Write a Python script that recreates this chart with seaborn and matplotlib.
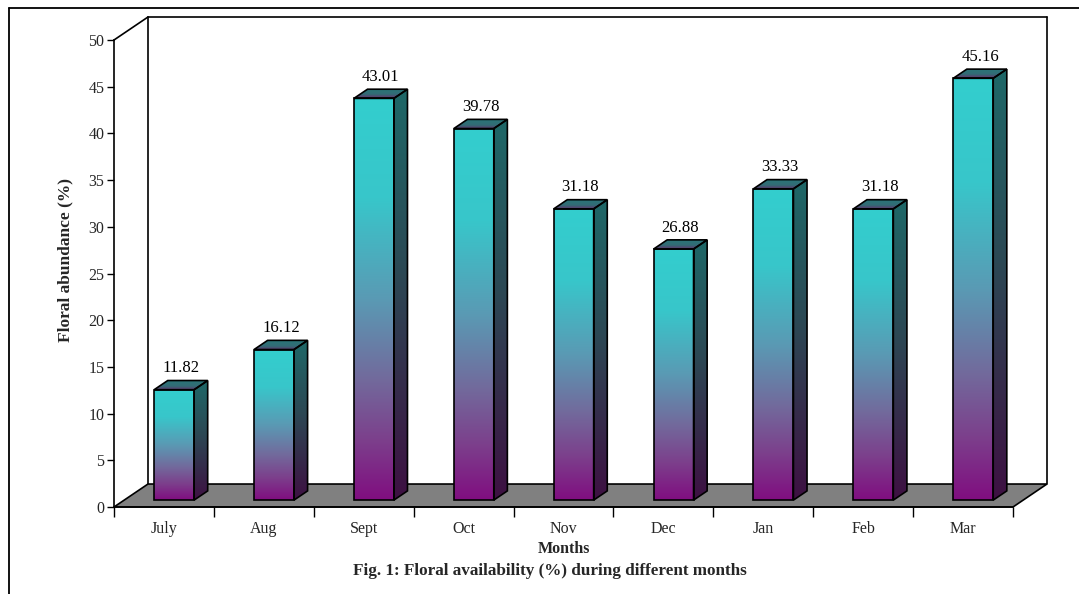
import numpy as np
import matplotlib
matplotlib.use("Agg")
import matplotlib.pyplot as plt
from matplotlib.patches import Polygon
from matplotlib.lines import Line2D
import seaborn as sns

months = ["July", "Aug", "Sept", "Oct", "Nov", "Dec", "Jan", "Feb", "Mar"]
abundance = [11.82, 16.12, 43.01, 39.78, 31.18, 26.88, 33.33, 31.18, 45.16]
y_ticks = [0, 5, 10, 15, 20, 25, 30, 35, 40, 45, 50]

sns.set_theme(style="white")
plt.rcParams["font.family"] = ["Liberation Serif", "DejaVu Serif"]

W, H = 1079, 594
fig = plt.figure(figsize=(W / 100, H / 100), dpi=100)
ax = fig.add_axes([114 / W, (H - 507) / H, 899 / W, 467 / H])

# depth of the 3D box (in data units) and placement of the bars inside it
DX, DY = 0.34, 2.46
T0, T1 = 0.3, 0.7
BAR_W = 0.4

# colour stops (position from top, rgb)
front_stops = [(0.0, (51, 206, 206)), (0.25, (56, 198, 202)), (0.5, (90, 154, 180)),
               (0.7, (114, 106, 156)), (0.85, (124, 64, 140)), (1.0, (128, 14, 128))]
side_stops = [(0.0, (30, 104, 104)), (0.45, (44, 72, 84)), (1.0, (62, 16, 66))]
lid_stops = [(0.0, (42, 118, 120)), (0.6, (50, 108, 118)), (1.0, (100, 50, 110))]


def vgrad(stops, n=256):
    t = np.linspace(0, 1, n)
    pos = [s[0] for s in stops]
    cols = np.array([s[1] for s in stops]) / 255
    g = np.stack([np.interp(t, pos, cols[:, k]) for k in range(3)], axis=1)
    return g[:, None, :]


sns.barplot(x=months, y=abundance, width=BAR_W, ax=ax, color="white",
            edgecolor="black", linewidth=1.2, zorder=5)

xlim = (-0.5, len(months) - 0.5)
ylim = (0, 50)

# back walls and floor
ax.plot([xlim[0] + DX, xlim[0] + DX], [DY, ylim[1] + DY], color="black", lw=1.2, clip_on=False, zorder=1)
ax.plot([xlim[0] + DX, xlim[1] + DX], [ylim[1] + DY, ylim[1] + DY], color="black", lw=1.2, clip_on=False, zorder=1)
ax.plot([xlim[1] + DX, xlim[1] + DX], [DY, ylim[1] + DY], color="black", lw=1.2, clip_on=False, zorder=1)
ax.plot([xlim[0], xlim[0] + DX], [ylim[1], ylim[1] + DY], color="black", lw=1.2, clip_on=False, zorder=1)
floor = Polygon([(xlim[0], 0), (xlim[1], 0), (xlim[1] + DX, DY), (xlim[0] + DX, DY)],
                closed=True, facecolor="#808080", edgecolor="black", lw=1.2,
                clip_on=False, zorder=2)
ax.add_patch(floor)

base = T0 * DY
ddx = (T1 - T0) * DX
ddy = (T1 - T0) * DY
for p, val in zip(ax.patches[:len(months)], abundance):
    x0 = p.get_x() + T0 * DX
    w = p.get_width()
    x1 = x0 + w
    top = base + val
    p.set_x(x0)
    p.set_y(base)
    p.set_height(val)
    p.set_facecolor("none")
    p.set_clip_on(False)

    side = Polygon([(x1, base), (x1 + ddx, base + ddy), (x1 + ddx, top + ddy), (x1, top)],
                   closed=True, facecolor="none", edgecolor="black", lw=1.2, zorder=5, clip_on=False)
    lid = Polygon([(x0, top), (x1, top), (x1 + ddx, top + ddy), (x0 + ddx, top + ddy)],
                  closed=True, facecolor="none", edgecolor="black", lw=1.2, zorder=5, clip_on=False)
    ax.add_patch(side)
    ax.add_patch(lid)

    im = ax.imshow(vgrad(front_stops), extent=[x0, x1, base, top],
                   aspect="auto", zorder=4, interpolation="bilinear")
    im.set_clip_path(p)
    im = ax.imshow(vgrad(side_stops), extent=[x1, x1 + ddx, base, top + ddy],
                   aspect="auto", zorder=4, interpolation="bilinear")
    im.set_clip_path(side)
    im = ax.imshow(vgrad(lid_stops), extent=[x0, x1 + ddx, top, top + ddy],
                   aspect="auto", zorder=4, interpolation="bilinear")
    im.set_clip_path(lid)

    ax.text(x0 + w / 2 + ddx / 2, top + ddy + 0.45, f"{val:.2f}", ha="center", va="bottom",
            fontsize=12, color="black", zorder=6)

ax.set_xlim(*xlim)
ax.set_ylim(*ylim)

for s in ["top", "right"]:
    ax.spines[s].set_visible(False)
for s in ["left", "bottom"]:
    ax.spines[s].set_color("black")
    ax.spines[s].set_linewidth(1.2)
    ax.spines[s].set_zorder(3)

ax.set_yticks(y_ticks)
ax.set_yticklabels([str(v) for v in y_ticks], fontsize=11.5)
ax.tick_params(axis="y", which="major", direction="out", length=5, width=1, color="black", left=True, pad=2)

ax.set_xticks(np.arange(len(months) + 1) - 0.5)
ax.set_xticklabels([])
ax.set_xticks(np.arange(len(months)), minor=True)
ax.set_xticklabels(months, minor=True, fontsize=11.5)
ax.tick_params(axis="x", which="minor", length=0, pad=10)
ax.tick_params(axis="x", which="major", direction="out", length=7, width=1, color="black", bottom=True)

ax.set_xlabel("Months", fontsize=11.5, fontweight="bold")
ax.xaxis.set_label_coords(0.5, -0.073)
ax.set_ylabel("Floral abundance (%)", fontsize=12.5, fontweight="bold")
ax.yaxis.set_label_coords(-0.0456, 0.529)
ax.grid(False)

fig.text(550 / W, 1 - 571 / H, "Fig. 1: Floral availability (%) during different months",
         ha="center", va="center", fontsize=12.3, fontweight="bold")

# outer frame
fig.add_artist(Line2D([8.5 / W, 8.5 / W], [0, 1 - 7.5 / H], transform=fig.transFigure, color="black", lw=1.3))
fig.add_artist(Line2D([8.5 / W, 1], [1 - 7.5 / H, 1 - 7.5 / H], transform=fig.transFigure, color="black", lw=1.3))

fig.savefig("out.png", dpi=100)
